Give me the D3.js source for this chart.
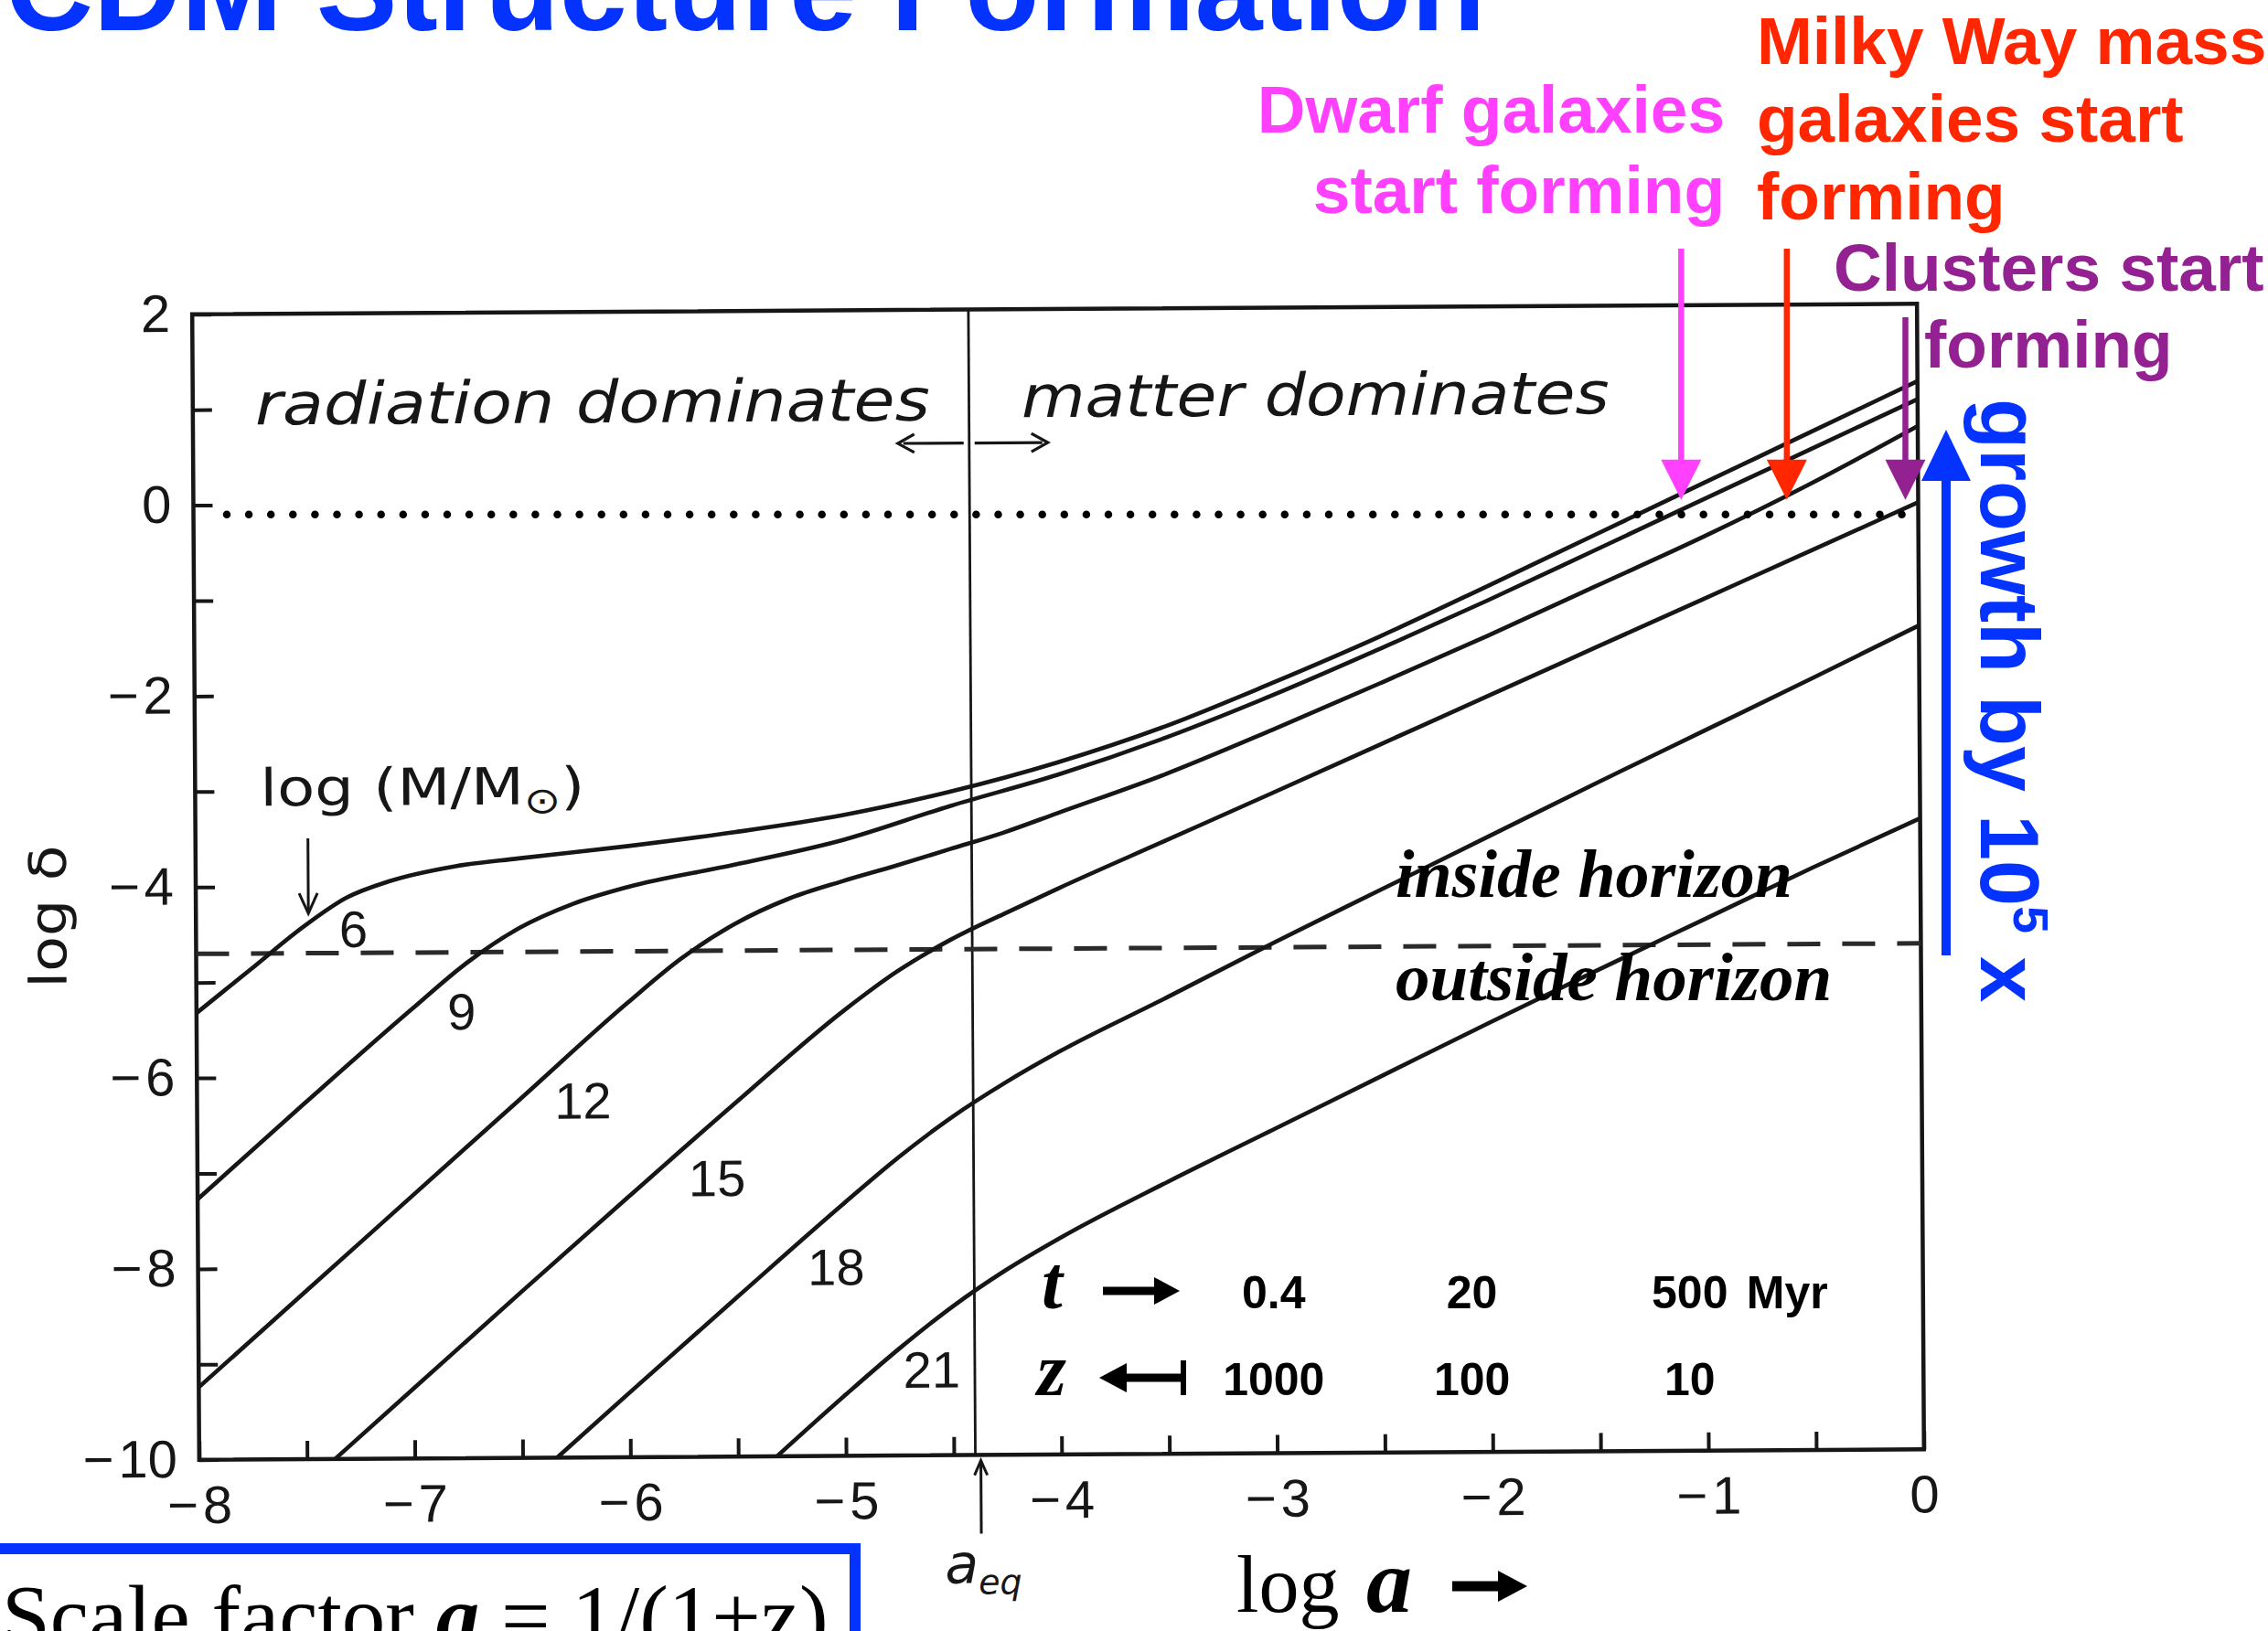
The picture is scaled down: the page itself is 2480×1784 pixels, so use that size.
<!DOCTYPE html>
<html>
<head>
<meta charset="utf-8">
<title>CDM Structure Formation</title>
<script src="https://cdn.jsdelivr.net/npm/d3@7/dist/d3.min.js"></script>
<style>
html,body{margin:0;padding:0;background:#fff;}
svg{display:block;}
</style>
</head>
<body>
<svg id="chart" width="2480" height="1784"></svg>
<script>
// ---------------- data (log a, log delta) ----------------
const massLabels = ["6", "9", "12", "15", "18", "21"];
const curve6  = [[-8,-5.32],[-7.75,-4.87],[-7.5,-4.42],[-7.3,-4.12],[-7.1,-3.95],[-6.8,-3.80],[-6.5,-3.72],[-6,-3.60],[-5.5,-3.46],[-5,-3.29],[-4.5,-3.05],[-4,-2.75],[-3.5,-2.38],[-3,-1.93],[-2.5,-1.45],[-2,-0.93],[-1.5,-0.40],[-1,0.13],[-0.5,0.66],[0,1.19]];
const curve9  = [[-8,-7.27],[-7.5,-6.27],[-7,-5.29],[-6.75,-4.82],[-6.5,-4.45],[-6.25,-4.20],[-6,-4.03],[-5.5,-3.80],[-5,-3.55],[-4.5,-3.20],[-4,-2.88],[-3.5,-2.50],[-3,-2.06],[-2.5,-1.58],[-2,-1.08],[-1.5,-0.56],[-1,-0.04],[-0.5,0.48],[0,1.0]];
const curve12 = [[-8,-9.24],[-7.5,-8.24],[-7,-7.24],[-6.5,-6.24],[-6,-5.24],[-5.75,-4.78],[-5.5,-4.42],[-5.25,-4.16],[-5,-3.98],[-4.75,-3.82],[-4.5,-3.65],[-4.25,-3.48],[-4,-3.28],[-3.5,-2.88],[-3,-2.42],[-2.5,-1.94],[-2,-1.45],[-1.5,-0.94],[-1,-0.43],[-0.5,0.12],[0,0.72]];
const curve15 = [[-7.37,-10],[-7,-9.26],[-6.5,-8.26],[-6,-7.27],[-5.5,-6.29],[-5,-5.34],[-4.75,-4.93],[-4.5,-4.60],[-4.25,-4.33],[-4,-4.07],[-3.5,-3.575],[-3,-3.08],[-2.5,-2.58],[-2,-2.08],[-1.5,-1.58],[-1,-1.08],[-0.5,-0.58],[0,-0.08]];
const curve18 = [[-6.34,-10],[-6,-9.32],[-5.5,-8.33],[-5,-7.35],[-4.75,-6.88],[-4.5,-6.46],[-4.25,-6.10],[-4,-5.78],[-3.5,-5.22],[-3,-4.65],[-2.5,-4.10],[-2,-3.55],[-1.5,-3.00],[-1,-2.46],[-0.5,-1.92],[0,-1.37]];
const curve21 = [[-5.32,-10],[-5,-9.36],[-4.75,-8.88],[-4.5,-8.44],[-4.25,-8.06],[-4,-7.73],[-3.5,-7.15],[-3,-6.60],[-2.5,-6.05],[-2,-5.50],[-1.5,-4.96],[-1,-4.43],[-0.5,-3.90],[0,-3.39]];
const curves = [curve6, curve9, curve12, curve15, curve18, curve21];
const massLabelAnchors = [[-7.27,-4.64],[-6.77,-5.51],[-6.21,-6.45],[-5.59,-7.27],[-5.04,-8.21],[-4.60,-9.29]];

const xTicks = [-8,-7,-6,-5,-4,-3,-2,-1,0];
const xMinorTicks = [-7.5,-6.5,-5.5,-4.5,-3.5,-2.5,-1.5,-0.5];
const yTicks = [2,0,-2,-4,-6,-8,-10];
const yMinorTicks = [1,-1,-3,-5,-7,-9];

const aEq = -4.4;            // log a at matter-radiation equality
const horizonLevel = -4.7;   // log delta of horizon crossing

const tLabels = ["0.4", "20", "500"];
const zLabels = ["1000", "100", "10"];
const tzLogA = [-3.0, -2.08, -1.07];

const formationNames = [["Dwarf galaxies", "start forming"], ["Milky Way mass", "galaxies start", "forming"], ["Clusters start", "forming"]];
const formationLogA = [-1.11, -0.62, -0.07];
const formationColors = ["#FF40FF", "#FF2600", "#942192"];

// ---------------- setup ----------------
const svg = d3.select("#chart");
svg.append("rect").attr("width", 2480).attr("height", 1784).attr("fill", "#fff");

const x = d3.scaleLinear().domain([-8, 0]).range([214, 2100]);
const y = d3.scaleLinear().domain([-10, 2]).range([1591, 338]);
const ink = "#161616";
const scanFont = "'DejaVu Sans', 'Liberation Sans', sans-serif";
const numFont = "'Liberation Sans', Arial, sans-serif";
const blue = "#0433FF";

function arrowHead(g, tx, ty, dir, len, w, color) {
  let pts;
  if (dir === "down") pts = [[tx, ty], [tx - w / 2, ty - len], [tx + w / 2, ty - len]];
  if (dir === "up") pts = [[tx, ty], [tx - w / 2, ty + len], [tx + w / 2, ty + len]];
  if (dir === "right") pts = [[tx, ty], [tx - len, ty - w / 2], [tx - len, ty + w / 2]];
  if (dir === "left") pts = [[tx, ty], [tx + len, ty - w / 2], [tx + len, ty + w / 2]];
  g.append("polygon").attr("points", pts.map(p => p.join(",")).join(" ")).attr("fill", color);
}

// ---------------- scanned figure (slightly tilted) ----------------
const scan = svg.append("g").attr("transform", "rotate(-0.35,1157,964)");

scan.append("rect")
  .attr("x", x(-8)).attr("y", y(2))
  .attr("width", x(0) - x(-8)).attr("height", y(-10) - y(2))
  .attr("fill", "none").attr("stroke", ink).attr("stroke-width", 4.5);

const fmt = d => d < 0 ? "\u2212\u200A" + Math.abs(d) : String(d);

const xAxis = d3.axisBottom(x)
  .tickValues(xTicks.concat(xMinorTicks))
  .tickSizeInner(-20).tickSizeOuter(0).tickPadding(28)
  .tickFormat(d => Number.isInteger(d) ? fmt(d) : "");
scan.append("g").attr("transform", `translate(0,${y(-10)})`).call(xAxis)
  .call(g => {
    g.select(".domain").remove();
    g.selectAll("line").attr("stroke", ink).attr("stroke-width", 4);
    g.selectAll("text").attr("fill", ink).attr("font-size", 58).attr("font-family", numFont);
  });

const yAxis = d3.axisLeft(y)
  .tickValues(yTicks.concat(yMinorTicks))
  .tickSizeInner(-21).tickSizeOuter(0).tickPadding(24)
  .tickFormat(d => yTicks.includes(d) ? fmt(d) : "");
scan.append("g").attr("transform", `translate(${x(-8)},0)`).call(yAxis)
  .call(g => {
    g.select(".domain").remove();
    g.selectAll("line").attr("stroke", ink).attr("stroke-width", 4);
    g.selectAll("text").attr("fill", ink).attr("font-size", 58).attr("font-family", numFont);
  });

scan.append("text")
  .attr("transform", `translate(72,${y(-4.3)}) rotate(-90)`)
  .attr("text-anchor", "middle")
  .attr("font-family", scanFont).attr("font-size", 56).attr("fill", ink)
  .attr("textLength", 156).attr("lengthAdjust", "spacingAndGlyphs")
  .text("log \u03B4");

scan.append("line")
  .attr("x1", x(aEq)).attr("x2", x(aEq)).attr("y1", y(2)).attr("y2", y(-10))
  .attr("stroke", ink).attr("stroke-width", 2.8);

scan.append("line").attr("x1", x(aEq) + 6).attr("x2", x(aEq) + 6)
  .attr("y1", y(-10) + 86).attr("y2", y(-10) + 6)
  .attr("stroke", ink).attr("stroke-width", 3);
scan.append("path")
  .attr("d", `M${x(aEq) + 6 - 7},${y(-10) + 22} L${x(aEq) + 6},${y(-10) + 6} L${x(aEq) + 6 + 7},${y(-10) + 22}`)
  .attr("fill", "none").attr("stroke", ink).attr("stroke-width", 3);
const aeq = scan.append("text").attr("x", x(aEq) - 34).attr("y", y(-10) + 140)
  .attr("font-family", scanFont).attr("font-style", "italic").attr("font-size", 60).attr("fill", ink);
aeq.append("tspan").text("a");
aeq.append("tspan").attr("font-size", 38).attr("dy", 12).text("eq");

scan.append("line")
  .attr("x1", x(-8)).attr("x2", x(0)).attr("y1", y(horizonLevel)).attr("y2", y(horizonLevel))
  .attr("stroke", "#2a2a2a").attr("stroke-width", 5).attr("stroke-dasharray", "36,24");

const line = d3.line().x(d => x(d[0])).y(d => y(d[1])).curve(d3.curveMonotoneX);
scan.append("g").selectAll("path").data(curves).join("path")
  .attr("d", line).attr("fill", "none").attr("stroke", ink).attr("stroke-width", 4.6)
  .attr("stroke-linejoin", "round");

scan.append("g").selectAll("text").data(massLabels).join("text")
  .attr("x", (d, i) => x(massLabelAnchors[i][0]))
  .attr("y", (d, i) => y(massLabelAnchors[i][1]))
  .attr("text-anchor", "middle")
  .attr("font-family", "'Liberation Sans Narrow', 'Liberation Sans', sans-serif")
  .attr("font-size", 56).attr("fill", ink)
  .text(d => d);

const lm = scan.append("text").attr("x", 285).attr("y", 876)
  .attr("font-family", scanFont).attr("font-size", 56).attr("fill", ink)
  .attr("textLength", 355).attr("lengthAdjust", "spacingAndGlyphs");
lm.append("tspan").text("log (M/M");
lm.append("tspan").attr("font-size", 40).attr("dy", 10).text("\u2299");
lm.append("tspan").attr("dy", -10).text(")");
scan.append("line").attr("x1", 337).attr("x2", 337).attr("y1", 912).attr("y2", 990)
  .attr("stroke", ink).attr("stroke-width", 3);
scan.append("path").attr("d", "M327,972 L337,994 L347,972").attr("fill", "none")
  .attr("stroke", ink).attr("stroke-width", 3);

scan.append("text").attr("x", 282).attr("y", 459)
  .attr("font-family", scanFont).attr("font-style", "italic").attr("font-size", 64).attr("fill", ink)
  .attr("textLength", 738).attr("lengthAdjust", "spacingAndGlyphs")
  .text("radiation dominates");
scan.append("text").attr("x", 1120).attr("y", 456)
  .attr("font-family", scanFont).attr("font-style", "italic").attr("font-size", 64).attr("fill", ink)
  .attr("textLength", 643).attr("lengthAdjust", "spacingAndGlyphs")
  .text("matter dominates");
scan.append("line").attr("x1", x(aEq) - 6).attr("x2", x(aEq) - 72).attr("y1", 484).attr("y2", 484)
  .attr("stroke", ink).attr("stroke-width", 3.2);
scan.append("path").attr("d", `M${x(aEq) - 60},474 L${x(aEq) - 78},484 L${x(aEq) - 60},494`)
  .attr("fill", "none").attr("stroke", ink).attr("stroke-width", 3.2);
scan.append("line").attr("x1", x(aEq) + 6).attr("x2", x(aEq) + 80).attr("y1", 484).attr("y2", 484)
  .attr("stroke", ink).attr("stroke-width", 3.2);
scan.append("path").attr("d", `M${x(aEq) + 68},474 L${x(aEq) + 86},484 L${x(aEq) + 68},494`)
  .attr("fill", "none").attr("stroke", ink).attr("stroke-width", 3.2);

// ---------------- overlays ----------------
svg.append("line")
  .attr("x1", 248).attr("x2", 2080).attr("y1", y(0) + 16).attr("y2", y(0) + 16)
  .attr("stroke", "#000").attr("stroke-width", 8.5)
  .attr("stroke-linecap", "round").attr("stroke-dasharray", "0,24.1");

svg.append("text").attr("x", 6).attr("y", 33)
  .attr("font-family", "'Liberation Sans', Arial, sans-serif").attr("font-weight", "bold")
  .attr("font-size", 133).attr("fill", blue)
  .text("CDM Structure Formation");

const annFont = "'Liberation Sans', Arial, sans-serif";
const annText = svg.append("g").attr("font-family", annFont).attr("font-weight", "bold").attr("font-size", 73);
annText.append("text").attr("text-anchor", "end").attr("fill", formationColors[0])
  .selectAll("tspan").data(formationNames[0]).join("tspan")
  .attr("x", 1886).attr("y", (d, i) => 145 + i * 88).text(d => d);
annText.append("text").attr("fill", formationColors[1])
  .selectAll("tspan").data(formationNames[1]).join("tspan")
  .attr("x", 1921).attr("y", (d, i) => 70 + i * 85).text(d => d);
annText.append("text").attr("fill", formationColors[2])
  .selectAll("tspan").data(formationNames[2]).join("tspan")
  .attr("x", (d, i) => i === 0 ? 2005 : 2104).attr("y", (d, i) => 318 + i * 84).text(d => d);

const arrowTops = [272, 272, 347];
formationLogA.forEach((v, i) => {
  const ax = x(v);
  svg.append("line").attr("x1", ax).attr("x2", ax).attr("y1", arrowTops[i]).attr("y2", y(0) - 38)
    .attr("stroke", formationColors[i]).attr("stroke-width", 6.5);
  arrowHead(svg, ax, y(0), "down", 44, 44, formationColors[i]);
});

svg.append("line").attr("x1", 2128).attr("x2", 2128).attr("y1", 1045).attr("y2", 515)
  .attr("stroke", blue).attr("stroke-width", 10);
arrowHead(svg, 2128, 470, "up", 56, 54, blue);
const gr = svg.append("text")
  .attr("transform", "translate(2166,436) rotate(90)")
  .attr("font-family", annFont).attr("font-weight", "bold").attr("font-size", 90).attr("fill", blue);
gr.append("tspan").text("growth by 10");
gr.append("tspan").attr("font-size", 54).attr("dy", -36).text("5");
gr.append("tspan").attr("dy", 36).text(" x");

const horFont = "'Liberation Serif', 'Times New Roman', serif";
svg.append("text").attr("x", 1526).attr("y", 981)
  .attr("font-family", horFont).attr("font-style", "italic").attr("font-weight", "bold")
  .attr("font-size", 74).attr("fill", "#000").text("inside horizon");
svg.append("text").attr("x", 1526).attr("y", 1094)
  .attr("font-family", horFont).attr("font-style", "italic").attr("font-weight", "bold")
  .attr("font-size", 75).attr("fill", "#000").text("outside horizon");

const tzFont = "'Liberation Sans Narrow', 'Liberation Sans', Arial, sans-serif";
svg.append("text").attr("x", 1139).attr("y", 1431)
  .attr("font-family", horFont).attr("font-style", "italic").attr("font-weight", "bold")
  .attr("font-size", 82).attr("fill", "#000").text("t");
svg.append("text").attr("x", 1134).attr("y", 1526)
  .attr("font-family", horFont).attr("font-style", "italic").attr("font-weight", "bold")
  .attr("font-size", 82).attr("fill", "#000").text("z");
svg.append("line").attr("x1", 1206).attr("x2", 1264).attr("y1", 1412).attr("y2", 1412)
  .attr("stroke", "#000").attr("stroke-width", 9);
arrowHead(svg, 1290, 1412, "right", 28, 30, "#000");
svg.append("line").attr("x1", 1228).attr("x2", 1294).attr("y1", 1507).attr("y2", 1507)
  .attr("stroke", "#000").attr("stroke-width", 9);
arrowHead(svg, 1202, 1507, "left", 30, 32, "#000");
svg.append("line").attr("x1", 1294).attr("x2", 1294).attr("y1", 1488).attr("y2", 1526)
  .attr("stroke", "#000").attr("stroke-width", 6);

svg.append("g").selectAll("text").data(tLabels).join("text")
  .attr("x", (d, i) => x(tzLogA[i])).attr("y", 1431).attr("text-anchor", "middle")
  .attr("font-family", tzFont).attr("font-weight", "bold").attr("font-size", 50).attr("fill", "#000")
  .text(d => d);
svg.append("text").attr("x", x(tzLogA[2]) + 62).attr("y", 1431)
  .attr("font-family", tzFont).attr("font-weight", "bold").attr("font-size", 50).attr("fill", "#000")
  .text("Myr");
svg.append("g").selectAll("text").data(zLabels).join("text")
  .attr("x", (d, i) => x(tzLogA[i])).attr("y", 1526).attr("text-anchor", "middle")
  .attr("font-family", tzFont).attr("font-weight", "bold").attr("font-size", 50).attr("fill", "#000")
  .text(d => d);

svg.append("text").attr("x", 1352).attr("y", 1763)
  .attr("font-family", horFont).attr("font-size", 88).attr("fill", "#000").text("log");
svg.append("text").attr("x", 1494).attr("y", 1763)
  .attr("font-family", horFont).attr("font-style", "italic").attr("font-weight", "bold")
  .attr("font-size", 100).attr("fill", "#000").text("a");
svg.append("line").attr("x1", 1588).attr("x2", 1640).attr("y1", 1735).attr("y2", 1735)
  .attr("stroke", "#000").attr("stroke-width", 11);
arrowHead(svg, 1670, 1735, "right", 32, 34, "#000");

svg.append("rect").attr("x", -20).attr("y", 1694).attr("width", 955).attr("height", 200)
  .attr("fill", "none").attr("stroke", blue).attr("stroke-width", 12);
const sf = svg.append("text").attr("x", 2).attr("y", 1800)
  .attr("font-family", horFont).attr("font-size", 95).attr("fill", "#000");
sf.append("tspan").text("Scale factor ");
sf.append("tspan").attr("font-style", "italic").attr("font-weight", "bold").text("a");
sf.append("tspan").text(" = 1/(1+z)");
</script>
</body>
</html>
